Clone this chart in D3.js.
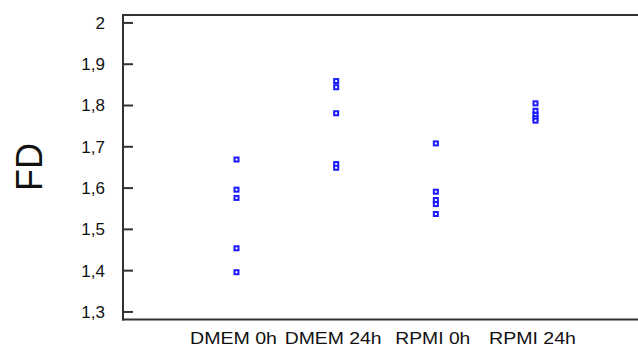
<!DOCTYPE html>
<html>
<head>
<meta charset="utf-8">
<script src="https://cdn.jsdelivr.net/npm/d3@7"></script>
<style>
  body { margin: 0; background: #fff; }
  svg text { font-family: "Liberation Sans", Arial, sans-serif; }
</style>
</head>
<body>
<div id="chart"></div>
<script>
// data
const categories = ['DMEM 0h', 'DMEM 24h', 'RPMI 0h', 'RPMI 24h'];
const dmem0 = [1.668, 1.595, 1.575, 1.453, 1.395];
const dmem24 = [1.858, 1.843, 1.780, 1.657, 1.648];
const rpmi0 = [1.707, 1.590, 1.570, 1.560, 1.536];
const rpmi24 = [1.804, 1.786, 1.776, 1.768, 1.762];
const yTicks = [1.3, 1.4, 1.5, 1.6, 1.7, 1.8, 1.9, 2];

const seriesValues = [dmem0, dmem24, rpmi0, rpmi24];
const labelWidths = [87, 97, 75, 87];

const width = 638, height = 349;
const margin = { top: 15, right: 0, bottom: 30, left: 122 };

const svg = d3.select('#chart')
  .append('svg')
  .attr('width', width)
  .attr('height', height);

const x = d3.scalePoint()
  .domain(categories)
  .range([236.5, 535.5]);

const y = d3.scaleLinear()
  .domain([1.2805, 2.018])
  .range([height - margin.bottom + 0.5, margin.top]);

const points = [];
categories.forEach((c, i) => {
  seriesValues[i].forEach(v => points.push({ cat: c, value: v }));
});

// frame lines: top and bottom
svg.append('line')
  .attr('x1', margin.left).attr('x2', width)
  .attr('y1', margin.top).attr('y2', margin.top)
  .attr('stroke', '#333').attr('stroke-width', 2);

svg.append('line')
  .attr('x1', margin.left).attr('x2', width)
  .attr('y1', y.range()[0]).attr('y2', y.range()[0])
  .attr('stroke', '#333').attr('stroke-width', 2);

// Y-axis with inward ticks
const yAxis = svg.append('g')
  .attr('transform', `translate(${margin.left + 1},0)`)
  .call(d3.axisRight(y).tickValues(yTicks).tickSize(10).tickFormat(d => d3.format('.1f')(d).replace('.', ',').replace(',0', '')));

yAxis.select('.domain').remove();
yAxis.selectAll('.tick line').attr('stroke', '#333').attr('stroke-width', 2);
yAxis.selectAll('.tick text')
  .attr('x', -18)
  .attr('text-anchor', 'end')
  .attr('dy', '0.35em')
  .style('font-size', '17px')
  .style('fill', '#111');

svg.append('line')
  .attr('x1', margin.left + 1).attr('x2', margin.left + 1)
  .attr('y1', margin.top - 1).attr('y2', y.range()[0] + 1)
  .attr('stroke', '#333').attr('stroke-width', 2);

// X labels
svg.selectAll('.xlabel')
  .data(categories)
  .enter()
  .append('text')
  .attr('class', 'xlabel')
  .attr('x', (d, i) => x(d) - 3 - labelWidths[i] / 2)
  .attr('y', 344)
  .attr('textLength', (d, i) => labelWidths[i])
  .attr('lengthAdjust', 'spacingAndGlyphs')
  .style('font-size', '17px')
  .style('fill', '#111')
  .text(d => d);

// Y label
svg.append('text')
  .attr('transform', 'translate(42,167) rotate(-90)')
  .attr('text-anchor', 'middle')
  .style('font-size', '36px')
  .style('fill', '#111')
  .text('FD');

// markers
svg.selectAll('.pt')
  .data(points)
  .enter()
  .append('rect')
  .attr('class', 'pt')
  .attr('x', d => x(d.cat) - 2)
  .attr('y', d => y(d.value) - 2)
  .attr('width', 4)
  .attr('height', 4)
  .attr('fill', '#fff')
  .attr('stroke', '#1a1aff')
  .attr('stroke-width', 2);
</script>
</body>
</html>
